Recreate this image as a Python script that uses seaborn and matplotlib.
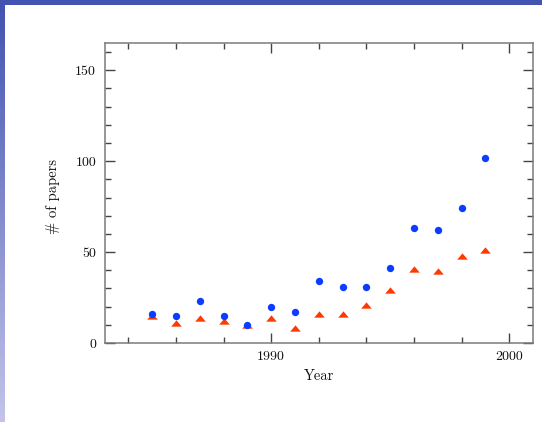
import numpy as np
import pandas as pd
import matplotlib
matplotlib.use("Agg")
import matplotlib.pyplot as plt
from matplotlib.ticker import MultipleLocator
import seaborn as sns

# Publication counts per year
years = [1985, 1986, 1987, 1988, 1989, 1990, 1991, 1992, 1993, 1994,
         1995, 1996, 1997, 1998, 1999]
total_papers = [16, 15, 23, 15, 10, 20, 17, 34, 31, 31, 41, 63, 62, 74, 102]
subset_papers = [15, 11, 14, 12, 10, 14, 8.5, 16, 16, 21, 29, 40.5, 39.5, 48, 51]

x_major = [1990, 2000]
y_major = [0, 50, 100, 150]

sns.set_style("ticks")
plt.rcParams["font.family"] = ["cmr10", "DejaVu Serif"]
plt.rcParams["axes.formatter.use_mathtext"] = True
plt.rcParams["mathtext.fontset"] = "cm"

W, H = 542, 422
fig = plt.figure(figsize=(W / 100, H / 100), dpi=100)
fig.patch.set_facecolor("white")

# slide frame: solid band on top, fading band on the left
top = fig.add_axes([0, 1 - 5 / H, 1, 5 / H])
top.set_facecolor("#4253b1")
top.set_xticks([]); top.set_yticks([])
for s in top.spines.values():
    s.set_visible(False)

left = fig.add_axes([0, 0, 5 / W, 1 - 5 / H])
c0 = np.array([0x42, 0x53, 0xb1]) / 255
c1 = np.array([0xc4, 0xc4, 0xea]) / 255
t = np.linspace(0, 1, 256)[:, None]
grad = (c0[None, :] * (1 - t) + c1[None, :] * t)[:, None, :]
left.imshow(grad, aspect="auto", extent=[0, 1, 0, 1], origin="upper")
left.axis("off")

ax = fig.add_axes([104.5 / W, 1 - 343 / H, (533 - 104.5) / W, 300 / H])

df = pd.DataFrame({"Year": years, "all": total_papers, "sub": subset_papers})

tri = [(-1.0, -0.6), (1.0, -0.6), (0.0, 0.6), (-1.0, -0.6)]
sns.scatterplot(data=df, x="Year", y="sub", ax=ax, marker=tri, s=58,
                color="#ff3a00", linewidth=0, zorder=3)
sns.scatterplot(data=df, x="Year", y="all", ax=ax, marker="o", s=28,
                color="#0b3cff", linewidth=0, zorder=4)

ax.set_xlim(1983, 2001)
ax.set_ylim(0, 165)
ax.set_xticks(x_major)
ax.set_xticklabels([str(v) for v in x_major])
ax.set_yticks(y_major)
ax.set_yticklabels([str(v) for v in y_major])
ax.xaxis.set_minor_locator(MultipleLocator(2))
ax.yaxis.set_minor_locator(MultipleLocator(10))

spine_col = "#7a7a7a"
for s in ax.spines.values():
    s.set_visible(True)
    s.set_color(spine_col)
    s.set_linewidth(1.1)
ax.tick_params(which="both", direction="in", top=True, right=True,
               color="#444444", width=1.0, labelsize=10, pad=6,
               labelcolor="#111111")
ax.tick_params(which="major", length=7.2)
ax.tick_params(which="minor", length=4.3)

ax.set_xlabel("Year", fontsize=10.5, color="#111111")
ax.set_ylabel("# of papers", fontsize=10.5, color="#111111")
ax.xaxis.set_label_coords(0.5, -0.11)
ax.xaxis.label.set_verticalalignment("center")
ax.yaxis.set_label_coords(-0.12, 0.49)
ax.yaxis.label.set_verticalalignment("center")

fig.savefig("out.png", dpi=100)
